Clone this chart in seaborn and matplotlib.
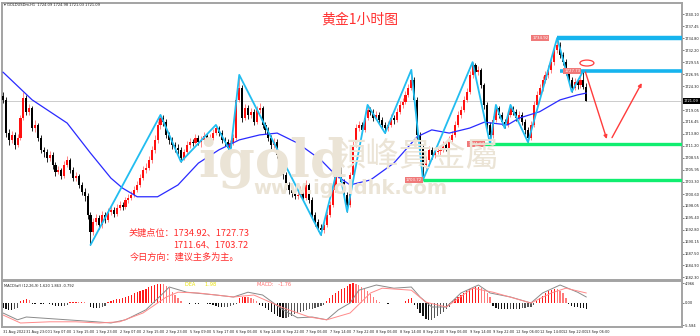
import numpy as np
import pandas as pd
import matplotlib
matplotlib.use("Agg")
import matplotlib.pyplot as plt
import matplotlib.transforms as mtransforms
from matplotlib.patches import Ellipse
import seaborn as sns

# ---- hourly candles, 31 Aug 15:00 -> 13 Sep 07:00 ----
first_open = 1722.2
closes = [
    1721.3, 1714.0, 1712.5, 1713.6, 1711.4, 1712.9, 1717.3, 1721.7, 1718.7, 1719.5,
    1715.1, 1715.8, 1712.9, 1710.3, 1709.9, 1708.5, 1709.2, 1707.0, 1705.5, 1705.9,
    1704.6, 1707.0, 1708.1, 1705.9, 1704.1, 1704.6, 1702.6, 1701.1, 1700.2, 1696.0,
    1692.3, 1694.5, 1695.4, 1693.8, 1696.0, 1694.9, 1696.7, 1697.1, 1696.2, 1697.6,
    1698.2, 1697.8, 1699.3, 1699.8, 1700.4, 1701.5, 1702.6, 1704.1, 1705.9, 1706.3,
    1708.1, 1710.3, 1712.5, 1715.8, 1717.3, 1716.5, 1713.6, 1712.5, 1711.4, 1710.7,
    1710.3, 1708.5, 1709.9, 1711.4, 1712.1,
    1711.8,
    1712.9, 1712.1, 1712.5, 1713.4, 1712.1, 1712.9, 1714.0, 1715.1, 1714.0, 1712.5,
    1712.1, 1710.7, 1711.8, 1712.9, 1721.3, 1723.9, 1717.3, 1719.5, 1718.0, 1718.7,
    1716.5, 1719.1, 1719.5, 1715.8, 1714.7, 1712.9, 1711.4, 1712.1, 1709.2, 1706.3,
    1704.8, 1702.6, 1701.5, 1700.9, 1700.2, 1700.4, 1701.5, 1699.8, 1702.6, 1699.3,
    1696.0, 1694.5, 1693.2, 1692.7, 1693.8, 1696.0, 1698.2, 1701.5, 1704.8, 1705.9,
    1703.3, 1700.4, 1698.2, 1704.8, 1711.4, 1715.1, 1715.8, 1714.7, 1717.3, 1719.1,
    1718.7, 1717.3, 1718.0, 1716.9, 1715.8, 1715.1, 1715.8, 1717.3, 1716.9, 1718.7,
    1720.2, 1720.9, 1722.4, 1723.9, 1725.7, 1721.3, 1713.6, 1710.7, 1707.0, 1708.1,
    1710.3, 1709.2, 1709.9,
    1710.1,
    1710.3, 1711.4, 1710.7, 1712.5, 1713.6, 1715.8, 1718.0, 1719.1, 1721.3, 1723.1,
    1726.8, 1729.0, 1727.4, 1727.9, 1724.6, 1720.2, 1715.8, 1713.6, 1716.9, 1719.5,
    1718.0, 1716.5, 1715.8, 1718.0, 1719.5, 1718.7, 1717.3, 1718.0, 1716.5, 1714.7,
    1712.9, 1715.8, 1720.2, 1722.4, 1723.9, 1725.7, 1726.8, 1727.9, 1729.6, 1732.3,
    1733.4, 1731.2, 1729.6, 1727.4, 1725.7, 1723.9, 1725.3, 1724.6, 1725.7, 1724.09, 1721.09,
]
highs = [
    1723.0, 1722.0, 1714.8, 1714.5, 1714.2, 1713.8, 1718.0, 1723.1, 1722.3, 1720.4,
    1720.0, 1716.9, 1716.3, 1713.5, 1711.0, 1710.6, 1710.1, 1709.8, 1707.6, 1706.8,
    1706.4, 1707.8, 1709.0, 1708.6, 1706.5, 1705.5, 1705.1, 1703.2, 1701.9, 1700.8,
    1696.6, 1695.4, 1696.3, 1696.0, 1696.9, 1696.7, 1697.5, 1698.0, 1697.8, 1698.4,
    1699.0, 1698.9, 1700.0, 1700.5, 1701.2, 1702.3, 1703.4, 1704.9, 1706.8, 1707.5,
    1709.0, 1711.2, 1713.6, 1716.7, 1718.0, 1717.9, 1717.0, 1714.3, 1713.2, 1712.0,
    1711.5, 1710.9, 1710.6, 1712.2, 1712.9,
    1712.8,
    1713.8, 1713.6, 1713.4, 1714.2, 1714.0, 1713.7, 1714.8, 1715.8, 1715.5, 1714.6,
    1713.1, 1712.7, 1712.5, 1713.8, 1722.0, 1726.8, 1724.5, 1720.4, 1720.1, 1719.6,
    1719.2, 1719.9, 1720.6, 1720.0, 1716.5, 1715.3, 1713.6, 1713.0, 1712.8, 1709.8,
    1707.0, 1705.4, 1703.3, 1702.2, 1701.5, 1701.3, 1702.4, 1702.0, 1703.7, 1703.1,
    1699.9, 1696.7, 1695.2, 1694.0, 1694.7, 1696.8, 1699.0, 1702.3, 1705.6, 1707.0,
    1706.5, 1703.9, 1701.0, 1705.5, 1712.2, 1716.0, 1716.7, 1716.4, 1718.1, 1720.2,
    1719.8, 1719.3, 1718.9, 1718.6, 1717.5, 1716.4, 1716.6, 1718.1, 1718.0, 1719.5,
    1721.0, 1721.8, 1723.2, 1724.8, 1727.9, 1726.3, 1722.0, 1714.2, 1711.3, 1709.0,
    1711.1, 1710.9, 1710.8,
    1710.9,
    1711.2, 1712.2, 1712.0, 1713.3, 1714.4, 1716.6, 1718.9, 1720.0, 1722.1, 1724.0,
    1727.7, 1729.6, 1729.4, 1728.8, 1728.4, 1725.1, 1720.8, 1716.4, 1717.7, 1720.2,
    1720.0, 1718.6, 1717.1, 1718.8, 1720.2, 1720.0, 1719.3, 1718.8, 1718.6, 1717.0,
    1715.3, 1716.6, 1721.0, 1723.3, 1724.8, 1726.6, 1727.7, 1728.9, 1730.5, 1733.2,
    1734.92, 1734.0, 1731.9, 1730.2, 1728.1, 1726.3, 1726.1, 1725.9, 1726.5, 1727.73, 1724.98,
]
lows = [
    1720.6, 1713.2, 1711.3, 1711.8, 1710.6, 1710.9, 1712.4, 1716.8, 1718.0, 1717.9,
    1714.5, 1714.3, 1712.2, 1709.6, 1708.8, 1707.7, 1707.9, 1706.2, 1704.6, 1704.9,
    1703.8, 1704.1, 1706.5, 1705.2, 1703.4, 1703.5, 1701.9, 1700.3, 1699.1, 1695.2,
    1689.4, 1691.5, 1693.8, 1693.0, 1693.2, 1694.2, 1694.4, 1696.0, 1695.5, 1695.7,
    1697.0, 1697.1, 1697.3, 1698.7, 1699.2, 1699.9, 1701.0, 1702.1, 1703.6, 1705.2,
    1705.8, 1707.5, 1709.7, 1711.9, 1715.0, 1715.6, 1712.9, 1711.6, 1710.6, 1709.8,
    1709.4, 1707.7, 1708.0, 1709.4, 1710.8,
    1711.2,
    1711.5, 1711.4, 1711.0, 1711.9, 1711.5, 1711.6, 1712.4, 1713.5, 1713.3, 1711.8,
    1711.2, 1710.1, 1709.9, 1711.3, 1712.4, 1720.8, 1716.5, 1716.8, 1717.2, 1717.4,
    1715.8, 1716.0, 1718.5, 1715.1, 1713.9, 1712.2, 1710.6, 1710.8, 1708.5, 1705.5,
    1703.9, 1701.8, 1700.7, 1700.0, 1699.4, 1699.5, 1699.9, 1699.0, 1699.3, 1698.6,
    1695.3, 1693.6, 1692.4, 1691.6, 1692.1, 1693.3, 1695.5, 1697.7, 1701.0, 1704.2,
    1702.6, 1699.6, 1696.7, 1697.8, 1704.3, 1710.9, 1714.4, 1714.0, 1714.2, 1716.8,
    1717.9, 1716.6, 1716.8, 1716.2, 1715.0, 1714.0, 1714.5, 1715.3, 1716.1, 1716.4,
    1718.2, 1719.6, 1720.3, 1721.9, 1723.4, 1720.6, 1712.8, 1709.9, 1703.72, 1706.2,
    1707.6, 1708.4, 1708.6,
    1709.3,
    1709.2, 1709.8, 1710.0, 1710.2, 1712.0, 1713.1, 1715.3, 1717.4, 1718.6, 1720.8,
    1722.6, 1726.2, 1726.6, 1726.7, 1723.9, 1719.4, 1715.0, 1711.64, 1713.0, 1716.4,
    1717.3, 1715.8, 1715.1, 1715.3, 1717.5, 1718.0, 1716.6, 1716.8, 1715.7, 1713.9,
    1712.0, 1712.4, 1715.3, 1719.7, 1721.7, 1723.2, 1725.0, 1726.2, 1727.3, 1729.0,
    1731.6, 1730.5, 1728.9, 1726.7, 1724.9, 1723.1, 1723.4, 1723.8, 1724.0, 1723.6, 1721.03,
]

# moving average, read at a few bars
ma_idx = [0, 10, 22, 30, 37, 41, 46, 53, 60, 67, 74, 81, 88, 94, 101, 109, 114, 119,
          126, 134, 142, 147, 153, 160, 165, 173, 177, 184, 191, 197, 200]
ma_val = [1727.4, 1721.3, 1716.2, 1709.6, 1704.1, 1701.9, 1700.0, 1700.0, 1702.6, 1707.4,
          1710.3, 1712.5, 1713.6, 1714.0, 1711.8, 1708.1, 1704.8, 1702.6, 1703.7, 1707.4,
          1713.2, 1714.7, 1714.0, 1715.1, 1716.4, 1715.8, 1717.3, 1718.7, 1721.3, 1722.4, 1722.8]

# zigzag pivots (bar, price)
zz_idx = [30, 54, 61, 73, 78, 81, 109, 115, 118, 125, 131, 140, 144, 161, 167, 169, 172, 174, 180, 190, 195, 199]
zz_val = [1689.4, 1718.0, 1707.7, 1715.8, 1709.9, 1726.8, 1691.6, 1707.0, 1696.7, 1720.2, 1714.0,
          1727.9, 1703.72, 1729.6, 1711.64, 1720.2, 1715.1, 1720.2, 1712.0, 1734.92, 1723.1, 1727.73]

# key levels
lvl_price = [1734.92, 1727.73, 1711.64, 1703.72]
lvl_start = [190, 191, 165, 144]
lvl_label_at = [187, 198, 165, 143.6]
lvl_color = ['#16b4ee', '#16b4ee', '#10ee70', '#10ee70']
lvl_width = [3.2, 2.6, 2.4, 2.4]

# forecast arrows (bar, price)
fc1_x, fc1_y = [199.7, 207.0], [1727.4, 1712.7]
fc2_x, fc2_y = [208.8, 219.0], [1713.0, 1725.0]

price_ticks = [1740.10, 1737.45, 1734.80, 1732.20, 1729.55, 1726.95, 1724.30, 1719.05, 1716.45,
               1713.80, 1711.20, 1708.55, 1705.95, 1703.30, 1700.60, 1698.05, 1695.40, 1692.80,
               1690.15, 1687.50, 1684.90, 1682.30]
last_price = 1721.09

date_labels = ['31 Aug 2022', '31 Aug 23:00', '1 Sep 07:00', '1 Sep 15:00', '1 Sep 23:00',
               '2 Sep 07:00', '2 Sep 15:00', '2 Sep 23:00', '5 Sep 09:00', '5 Sep 17:00',
               '6 Sep 06:00', '6 Sep 14:00', '6 Sep 22:00', '7 Sep 06:00', '7 Sep 14:00',
               '7 Sep 22:00', '8 Sep 06:00', '8 Sep 14:00', '8 Sep 22:00', '9 Sep 06:00',
               '9 Sep 14:00', '9 Sep 22:00', '12 Sep 06:00', '12 Sep 14:00', '12 Sep 22:00',
               '13 Sep 06:00']

# MACD panel
macd_hist = [
    -1.2, -1.5, -1.7, -1.8, -1.6, -1.3,
    0.4, 0.8, 1.0, 0.7,
    -0.2, -0.2, -0.1, -0.2, -0.2, -0.1, -0.2,
    -0.5, -0.7, -0.8, -0.8, -0.7, -0.5,
    0.2, 0.3, 0.3, 0.2, 0.3, 0.2, 0.1,
    -1.0, -1.2, -1.3, -1.2, -1.0, -0.8,
    0.3, 0.5, 0.7, 0.9, 1.1, 1.3, 1.6, 1.8, 2.1, 2.4, 2.7, 3.0, 3.3, 3.6, 3.9, 4.2, 4.5, 4.7, 4.8,
    4.7, 4.3, 3.8,
    2.8, 2.0, 1.2, 0.6,
    -0.1, -0.1, -0.2, -0.1, -0.2, -0.2, -0.1, -0.1, -0.2, -0.3,
    -0.6, -0.8, -1.0, -1.1, -1.0, -0.9, -0.7, -0.5, -0.2,
    1.3, 1.6, 1.6, 1.4, 1.2, 0.9, 0.5,
    -0.4, -0.8, -1.3, -1.8, -2.3, -2.8, -3.2, -3.6, -3.8, -3.7, -3.5, -3.2, -2.8, -2.5,
    -2.2, -2.0, -1.8, -1.6, -1.4, -1.2, -1.0, -0.8, -0.5,
    0.5, 1.2, 2.0, 2.6, 3.0, 3.4, 3.8, 4.2,
    4.8, 5.0, 4.8, 4.5, 4.1, 3.6, 3.0, 2.2, 1.4, 0.7, 0.3,
    -0.1, -0.1, -0.2, -0.1, 0.1, 0.1, -0.1, 0.1,
    0.4, 0.9, 1.2,
    -0.5, -1.5, -2.5, -3.3, -4.0, -4.3, -4.2, -3.8, -3.3, -2.8, -2.2, -1.6, -1.0,
    0.5, 1.0, 1.5, 2.0, 2.5, 3.0, 3.4, 3.7, 3.9, 4.0, 3.8, 3.2, 2.4, 1.5,
    -0.8, -1.2, -1.4, -1.5, -1.6, -1.6, -1.5, -1.5, -1.4, -1.4, -1.3, -1.2, -1.1, -0.9, -0.6,
    0.6, 1.2, 1.8, 2.4, 2.9, 3.3, 3.5, 3.4, 3.0, 2.4,
    1.2, -0.3, -0.8, -1.0, -1.1, -1.2, -1.3, -1.5,
]
gray_idx = [0, 5, 8, 22, 32, 37, 42, 49, 55, 57, 63, 73, 79, 84, 89, 96, 101, 106, 111, 115,
            119, 122, 128, 134, 140, 143, 147, 152, 157, 163, 167, 174, 181, 185, 191, 197, 200]
gray_val = [-2.5, -4.2, -3.5, -4.2, -4.7, -5.0, -4.2, -1.7, 2.5, 4.0, 2.7, 2.0, 1.5, 2.7, 2.0,
            -1.7, -3.7, -3.5, -4.2, -1.7, 0.0, 3.2, 4.5, 3.7, 4.0, 1.5, -1.0, -1.0, 2.5, 4.5,
            2.5, 1.5, 0.0, 2.5, 4.5, 2.7, 1.5]
pink_idx = [0, 6, 16, 25, 33, 40, 48, 56, 60, 67, 79, 86, 96, 105, 111, 119, 126, 130, 140,
            145, 152, 161, 168, 181, 188, 193, 200]
pink_val = [-3.0, -5.0, -4.7, -4.7, -5.0, -4.7, -2.5, 1.5, 2.7, 2.5, 1.5, 2.0, -1.2, -3.5,
            -4.2, -2.5, 2.5, 3.7, 3.2, 0.2, -1.0, 3.7, 2.7, 0.0, 2.5, 3.7, 2.5]

# ---------------------------------------------------------------
sns.set_style("white")
plt.rcParams['font.family'] = ['DejaVu Sans', 'Noto Sans CJK SC']

df = pd.DataFrame({"close": closes, "high": highs, "low": lows})
df["open"] = [first_open] + closes[:-1]
df["bar"] = np.arange(len(df))
up = df["close"] >= df["open"]

W, H = 700, 336
fig = plt.figure(figsize=(W / 100, H / 100), dpi=100)
ax = fig.add_axes([2 / W, 56 / H, 680 / W, 277 / H])
axm = fig.add_axes([2 / W, 9 / H, 680 / W, 46 / H])

frame = '#a3a3a3'
for a in (ax, axm):
    for s in a.spines.values():
        s.set_color(frame)
        s.set_linewidth(1.4)
    a.set_xlim(-0.34, 232.8)

# watermark (behind everything)
wm = '#ebe4d6'
fig.text(198 / W, 1 - 177 / H, "igold", fontsize=38, fontweight='bold', family='DejaVu Serif',
         color=wm, ha='left', va='baseline', zorder=0)
fig.text(333 / W, 1 - 156 / H, "領峰貴金屬", fontsize=24, family=['Noto Sans CJK TC'],
         color=wm, ha='left', va='center', zorder=0)
fig.text(253 / W, 1 - 189 / H, "www.igoldhk.com", fontsize=14, fontweight='bold',
         color=wm, ha='left', va='center', zorder=0)
ax.patch.set_alpha(0)
axm.patch.set_alpha(0)

# candles
ax.vlines(df["bar"], df["low"], df["high"],
          colors=np.where(up, '#ff7070', '#000000'), linewidth=0.6, zorder=2)
body = (df["close"] - df["open"]).where(lambda s: s.abs() > 0.15, 0.15)
ax.bar(df["bar"], body, bottom=df["open"], width=0.72,
       color=np.where(up, '#ff1010', '#000000'), linewidth=0, zorder=3)

# moving average + zigzag
sns.lineplot(x=ma_idx, y=ma_val, ax=ax, color='#2a2aff', linewidth=0.9, zorder=4)
sns.lineplot(x=zz_idx, y=zz_val, ax=ax, color='#22bdf0', linewidth=1.3, sort=False,
             estimator=None, zorder=5)

# current price line
ax.axhline(last_price, color='#cccccc', linewidth=0.7, zorder=1)

# key levels
for p, s0, lx, c, lw in zip(lvl_price, lvl_start, lvl_label_at, lvl_color, lvl_width):
    ax.plot([s0, 232.8], [p, p], color=c, linewidth=lw, solid_capstyle='butt', zorder=6)
    ax.text(lx, p, f"{p:.2f}", fontsize=2.8, color='white', ha='right', va='center', zorder=7,
            bbox=dict(boxstyle='square,pad=0.25', fc='#f07a7a', ec='none'))

# forecast arrows and circle
arrow_kw = dict(arrowstyle='-|>', color='#ff3c3c', lw=1.0, mutation_scale=5,
                shrinkA=0, shrinkB=0)
ax.annotate('', xy=(fc1_x[1], fc1_y[1]), xytext=(fc1_x[0], fc1_y[0]), arrowprops=arrow_kw, zorder=8)
ax.annotate('', xy=(fc2_x[1], fc2_y[1]), xytext=(fc2_x[0], fc2_y[0]), arrowprops=arrow_kw, zorder=8)
ax.add_patch(Ellipse((200.2, 1729.4), 4.8, 1.3, fill=False, ec='#ff3c3c', lw=0.9, zorder=8))

ax.set_ylim(1681.7, 1742.6)
ax.set_xticks([])
ax.yaxis.tick_right()
ax.set_yticks(price_ticks)
ax.set_yticklabels([f"{t:.2f}" for t in price_ticks])
ax.tick_params(axis='y', labelsize=2.6, length=1.2, width=0.4, pad=0.8, colors='#222222')
ax.set_xlabel("")
ax.set_ylabel("")

# last price tag
trans = mtransforms.blended_transform_factory(ax.transAxes, ax.transData)
ax.text(1.003, last_price, f"{last_price:.2f}", transform=trans, fontsize=2.6, color='white',
        ha='left', va='center', bbox=dict(boxstyle='square,pad=0.3', fc='black', ec='none'),
        clip_on=False, zorder=9)

# MACD panel
hist = np.array(macd_hist)
prev = np.r_[hist[0], hist[:-1]]
hcol = np.where(hist >= 0, np.where(hist >= prev, '#ff1a1a', '#ff7a7a'),
                np.where(hist <= prev, '#111111', '#555555'))
axm.bar(np.arange(len(hist)), hist, width=0.45, color=hcol, linewidth=0)
sns.lineplot(x=gray_idx, y=gray_val, ax=axm, color='#8a8a8a', linewidth=0.7)
sns.lineplot(x=pink_idx, y=pink_val, ax=axm, color='#ff8a8a', linewidth=0.7)
axm.set_ylim(-6.0, 5.5)
axm.yaxis.tick_right()
axm.set_yticks([4.966, 0.0, -5.584])
axm.set_yticklabels(["4.966", "0.00", "-5.584"])
axm.tick_params(axis='y', labelsize=2.6, length=1.2, width=0.4, pad=0.8, colors='#222222')
axm.set_xticks(np.arange(0, 8 * len(date_labels), 8))
axm.set_xticklabels(date_labels, ha='left')
axm.tick_params(axis='x', labelsize=2.5, length=1.2, width=0.4, pad=0.8, colors='#222222')
axm.set_xlabel("")
axm.set_ylabel("")

axm.text(0.003, 0.93, "MACD(af) (12,26,9) 1.620 1.863 -0.792", transform=axm.transAxes,
         fontsize=2.6, color='#222222', ha='left', va='top')
fig.text(185 / W, 1 - 284 / H, "DEA      1.98", fontsize=3.6, color='#e8e000', ha='left', va='center')
fig.text(257 / W, 1 - 284 / H, "MACD:   -1.76", fontsize=3.6, color='#ff6a6a', ha='left', va='center')

# header texts
fig.text(4 / W, 1 - 5 / H, "\u25be GOLDUSDm,H1  1724.09 1724.98 1721.03 1721.09", fontsize=2.6,
         color='#222222', ha='left', va='center')
fig.text(360 / W, 1 - 20 / H, "黄金1小时图", fontsize=10, color='#ff3030',
         family=['Noto Sans CJK SC'], ha='center', va='center')

red = '#ff2a2a'
cjk = ['Noto Sans CJK SC', 'DejaVu Sans']
fig.text(129 / W, 1 - 233 / H, "关键点位：1734.92、1727.73", fontsize=6.6, color=red, family=cjk,
         ha='left', va='center')
fig.text(173 / W, 1 - 245 / H, "1711.64、1703.72", fontsize=6.6, color=red, family=cjk,
         ha='left', va='center')
fig.text(130 / W, 1 - 257 / H, "今日方向：建议主多为主。", fontsize=6.6, color=red, family=cjk,
         ha='left', va='center')

fig.savefig("out.png", dpi=100)
